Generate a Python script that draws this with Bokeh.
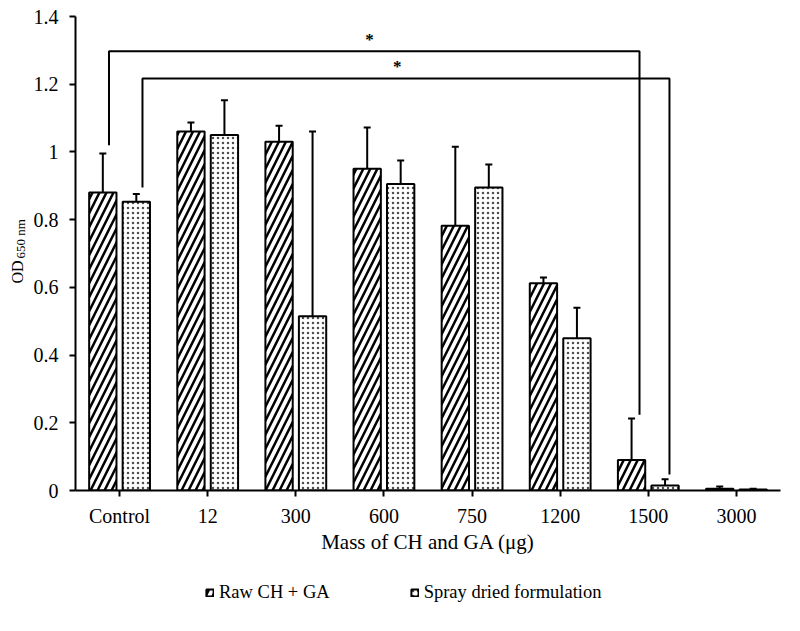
import math
from bokeh.plotting import figure
from bokeh.layouts import row, column
from bokeh.models import (ColumnDataSource, FactorRange, Range1d, FixedTicker,
                          Whisker, TeeHead, Legend, LegendItem)
from bokeh.transform import dodge
from bokeh.core.properties import value
from bokeh.embed import file_html
from bokeh.resources import INLINE

# ---------------- data ----------------
categories = ["Control", "12", "300", "600", "750", "1200", "1500", "3000"]
raw_values = [0.880, 1.060, 1.030, 0.950, 0.782, 0.612, 0.090, 0.005]
raw_errors = [0.115, 0.027, 0.047, 0.122, 0.233, 0.017, 0.123, 0.007]
spray_values = [0.853, 1.050, 0.515, 0.905, 0.895, 0.450, 0.015, 0.003]
spray_errors = [0.023, 0.103, 0.545, 0.070, 0.068, 0.090, 0.018, 0.002]
series_names = ["Raw CH + GA", "Spray dried formulation"]
y_ticks = [0, 0.2, 0.4, 0.6, 0.8, 1.0, 1.2, 1.4]
y_tick_labels = ["0", "0.2", "0.4", "0.6", "0.8", "1", "1.2", "1.4"]
x_title = "Mass of CH and GA (\u03bcg)"
y_title_main = "OD"
y_title_sub = "650 nm"

# significance brackets
sig_from = ["Control", "Control"]
sig_to = ["1500", "1500"]
sig_from_offset = [-0.12, 0.26]
sig_to_offset = [-0.10, 0.24]
sig_from_low = [1.020, 0.895]
sig_top = [1.297, 1.217]
sig_to_low = [0.224, 0.047]
sig_marks = ["*", "*"]
sig_mark_shift = [-0.055, -0.10]

FONT = "Liberation Serif"
OFF = 0.19
BW = 0.31

raw_style = dict(fill_color="white", line_color="black", line_width=2,
                 hatch_pattern="right_diagonal_line", hatch_scale=14,
                 hatch_weight=2.5, hatch_color="black")
spray_style = dict(fill_color="white", line_color="black", line_width=2,
                   hatch_pattern="dot", hatch_scale=5, hatch_weight=1.1,
                   hatch_color="#4d4d4d")

# ---------------- main plot ----------------
p = figure(width=754, height=565,
           x_range=FactorRange(factors=categories, range_padding=0),
           y_range=Range1d(0, 1.4),
           output_backend="svg", toolbar_location=None,
           min_border_left=42, min_border_right=4,
           min_border_top=16, min_border_bottom=75)
p.outline_line_color = None
p.xgrid.visible = False
p.ygrid.visible = False

src = ColumnDataSource(dict(
    cat=categories,
    raw=raw_values,
    raw_up=[v + e for v, e in zip(raw_values, raw_errors)],
    spray=spray_values,
    spray_up=[v + e for v, e in zip(spray_values, spray_errors)],
))

r1 = p.vbar(x=dodge("cat", -OFF, range=p.x_range), top="raw", width=BW, source=src,
            **raw_style)
r2 = p.vbar(x=dodge("cat", OFF, range=p.x_range), top="spray", width=BW, source=src,
            **spray_style)

for key, off in (("raw", -OFF), ("spray", OFF)):
    w = Whisker(base=dodge("cat", off, range=p.x_range), lower=key, upper=key + "_up",
                source=src, dimension="height", line_color="black", line_width=2,
                upper_head=TeeHead(size=7, line_width=2, line_color="black"),
                lower_head=None, level="overlay")
    p.add_layout(w)

# significance brackets
for i in range(len(sig_from)):
    xl = categories.index(sig_from[i]) + 0.5 + sig_from_offset[i]
    xr = categories.index(sig_to[i]) + 0.5 + sig_to_offset[i]
    p.line(x=[xl, xl, xr, xr], y=[sig_from_low[i], sig_top[i], sig_top[i], sig_to_low[i]],
           line_color="black", line_width=2)
    p.text(x=[(xl + xr) / 2 + sig_mark_shift[i]], y=[sig_top[i] + 0.034], text=[sig_marks[i]],
           text_font=value(FONT), text_font_size="17px", text_font_style="bold",
           text_align="center", text_baseline="alphabetic", text_color="black")

# axes
p.yaxis.ticker = FixedTicker(ticks=y_ticks)
p.yaxis.major_label_overrides = {t: l for t, l in zip(y_ticks, y_tick_labels)}
for ax in (p.xaxis[0], p.yaxis[0]):
    ax.axis_line_color = "black"
    ax.axis_line_width = 2
    ax.major_tick_line_color = "black"
    ax.major_tick_line_width = 2
    ax.major_tick_out = 6
    ax.major_tick_in = 0
    ax.minor_tick_line_color = None
    ax.major_label_text_font = FONT
    ax.major_label_text_font_size = "20px"
    ax.major_label_text_color = "black"
    ax.axis_label_text_font = FONT
    ax.axis_label_text_font_size = "21px"
    ax.axis_label_text_font_style = "normal"
    ax.axis_label_text_color = "black"
p.yaxis.major_label_standoff = 11
p.xaxis.major_label_standoff = 8
p.xaxis.axis_label = x_title
p.xaxis.axis_label_standoff = 0

# ---------------- y-axis title strip (OD with subscript) ----------------
H = 615
yt = figure(width=30, height=H, x_range=Range1d(0, 30), y_range=Range1d(0, H),
            output_backend="svg", toolbar_location=None, min_border=0,
            x_axis_location=None, y_axis_location=None)
yt.outline_line_color = None
yt.grid.visible = False
yt.text(x=[16.5], y=[H - 283], text=[y_title_main], angle=math.pi / 2,
        text_font=value(FONT), text_font_size="16px", text_color="black",
        text_align="left", text_baseline="alphabetic")
yt.text(x=[20], y=[H - 258], text=[y_title_sub], angle=math.pi / 2,
        text_font=value(FONT), text_font_size="13px", text_color="black",
        text_align="left", text_baseline="alphabetic")

# ---------------- legend strip ----------------
lg = figure(width=754, height=50, x_range=Range1d(0, 1), y_range=Range1d(0, 1),
            output_backend="svg", toolbar_location=None, min_border=0,
            x_axis_location=None, y_axis_location=None)
lg.outline_line_color = None
lg.grid.visible = False
# zero-size proxy bars: they carry the legend styles but draw nothing
lsrc = ColumnDataSource(dict(x=[0.0], top=[0.0]))
l1 = lg.vbar(x="x", top="top", width=0.0, source=lsrc, **raw_style)
l2 = lg.vbar(x="x", top="top", width=0.0, source=lsrc, **spray_style)
legend = Legend(items=[LegendItem(label=series_names[0], renderers=[l1]),
                       LegendItem(label=series_names[1], renderers=[l2])],
                orientation="horizontal", location=(130, 12),
                glyph_width=9, glyph_height=9, label_standoff=5, spacing=80,
                label_text_font=FONT, label_text_font_size="18.5px",
                label_text_color="black",
                border_line_color=None, background_fill_alpha=0,
                margin=0, padding=4)
lg.add_layout(legend, "center")

layout = row(yt, column(p, lg, spacing=0), spacing=0)
open("out.html", "w").write(file_html(layout, INLINE))
